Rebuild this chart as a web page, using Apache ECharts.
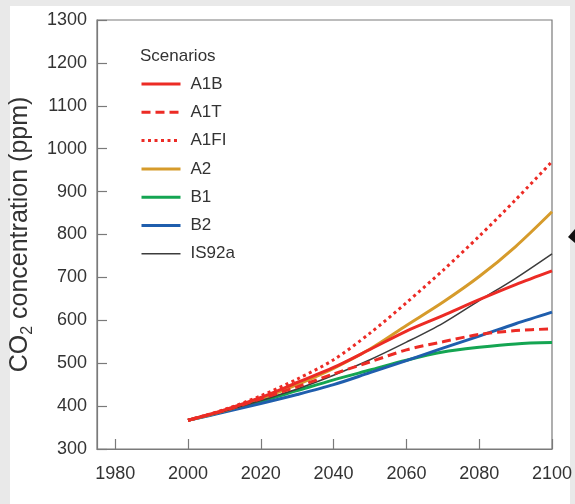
<!DOCTYPE html>
<html>
<head>
<meta charset="utf-8">
<script src="https://cdn.jsdelivr.net/npm/echarts@6/dist/echarts.min.js"></script>
<style>
html, body { margin: 0; padding: 0; background: #e9e9e9; }
#chart { width: 575px; height: 504px; }
</style>
</head>
<body>
<div id="chart"></div>
<script>
// CO2 concentration (ppm) per scenario, every 10 years
var years = [2000, 2010, 2020, 2030, 2040, 2050, 2060, 2070, 2080, 2090, 2100];
var a1b   = [367, 391, 420, 455, 490, 532, 575, 611, 648, 683, 715];
var a1t   = [367, 390, 417, 445, 475, 503, 531, 550, 567, 576, 580];
var a1fi  = [367, 392, 424, 463, 508, 570, 641, 716, 796, 881, 970];
var a2    = [367, 389, 417, 450, 488, 533, 588, 642, 702, 772, 853];
var b1    = [367, 388, 411, 436, 461, 484, 507, 526, 537, 545, 548];
var b2    = [367, 386, 406, 427, 450, 478, 506, 535, 563, 592, 619];
var is92a = [367, 388, 413, 440, 472, 508, 549, 593, 646, 698, 755];
var xTicks = [1980, 2000, 2020, 2040, 2060, 2080, 2100];

var font = "'Liberation Sans', Arial, sans-serif";

function pairs(vals) {
	return years.map(function (y, i) { return [y, vals[i]]; });
}
function line(name, vals, color, type, width) {
	return {
		name: name,
		type: 'line',
		data: pairs(vals),
		smooth: 0.3,
		symbol: 'none',
		lineStyle: { color: color, width: width, type: type },
		itemStyle: { color: color }
	};
}
function plain(v) { return String(v); }

var chart = echarts.init(document.getElementById('chart'));
var option = {
	animation: false,
	graphic: [
		{ type: 'rect', z: -10, silent: true, shape: { x: 10, y: 6, width: 560, height: 498 }, style: { fill: '#ffffff' } },
		// piece of an arrow cut off by the right edge
		{ type: 'polygon', silent: true, shape: { points: [[568, 237], [575, 229], [575, 243]] }, style: { fill: '#111' } }
	],
	title: {
		text: 'Scenarios',
		left: 140, top: 48, padding: 0,
		textStyle: { fontFamily: font, fontSize: 17, fontWeight: 'normal', color: '#333' }
	},
	legend: {
		orient: 'vertical',
		left: 140, top: 74, padding: 0,
		itemWidth: 39, itemHeight: 14, itemGap: 8.3,
		itemStyle: { opacity: 0 },
		textStyle: { fontFamily: font, fontSize: 17, color: '#333', lineHeight: 20, padding: [0, 0, 0, 5] },
		data: [
			{ name: 'A1B', lineStyle: { width: 3 } },
			{ name: 'A1T', lineStyle: { width: 3 } },
			{ name: 'A1FI', lineStyle: { width: 3 } },
			{ name: 'A2', lineStyle: { width: 3 } },
			{ name: 'B1', lineStyle: { width: 3 } },
			{ name: 'B2', lineStyle: { width: 3 } },
			{ name: 'IS92a', lineStyle: { width: 1.5 } }
		]
	},
	grid: {
		left: 97, right: 23, top: 20, bottom: 55,
		containLabel: false, outerBoundsMode: 'none',
		show: true, borderColor: '#7a7a7a', borderWidth: 1.2, backgroundColor: 'transparent'
	},
	xAxis: {
		type: 'value', min: 1975, max: 2100,
		axisLine: { show: true, lineStyle: { color: '#7a7a7a', width: 1.2 } },
		axisTick: { show: true, inside: true, length: 10, customValues: xTicks, lineStyle: { color: '#7a7a7a', width: 1.2 } },
		axisLabel: { customValues: xTicks, formatter: plain, fontFamily: font, fontSize: 18, color: '#333', margin: 16 },
		splitLine: { show: false }
	},
	yAxis: {
		type: 'value', min: 300, max: 1300, interval: 100,
		name: 'CO{sub|2} concentration (ppm)',
		nameLocation: 'middle', nameGap: 57,
		nameTextStyle: {
			fontFamily: font, fontSize: 25, color: '#333', lineHeight: 32,
			rich: { sub: { fontFamily: font, fontSize: 16, color: '#333', lineHeight: 32, verticalAlign: 'bottom' } }
		},
		axisLine: { show: true, lineStyle: { color: '#7a7a7a', width: 1.2 } },
		axisTick: { show: true, inside: true, length: 10, lineStyle: { color: '#7a7a7a', width: 1.2 } },
		axisLabel: { formatter: plain, fontFamily: font, fontSize: 18, color: '#333', margin: 10 },
		splitLine: { show: false }
	},
	series: [
		line('B1', b1, '#14a552', 'solid', 3),
		line('B2', b2, '#1f5ead', 'solid', 3),
		line('A2', a2, '#d69b2b', 'solid', 3),
		line('IS92a', is92a, '#3c3c3c', 'solid', 1.5),
		line('A1B', a1b, '#ec2b25', 'solid', 3),
		line('A1T', a1t, '#ec2b25', [9, 5], 3),
		line('A1FI', a1fi, '#ec2b25', [3, 3.5], 3)
	]
};
chart.setOption(option);
window.addEventListener('resize', function () { chart.resize(); });
</script>
</body>
</html>
